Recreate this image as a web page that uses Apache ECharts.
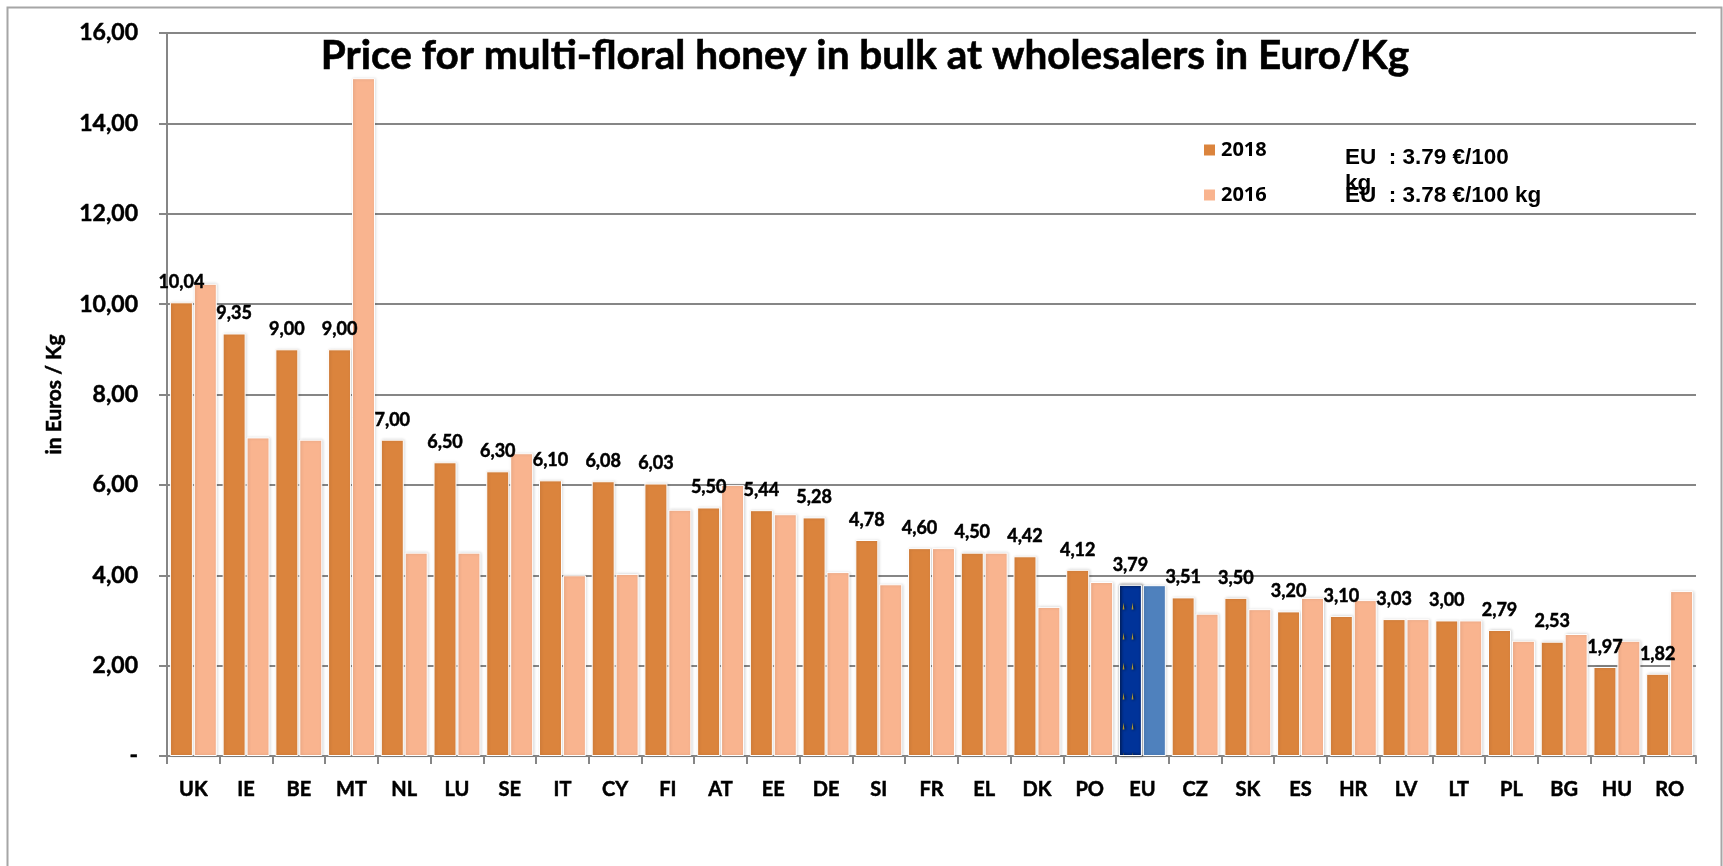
<!DOCTYPE html>
<html>
<head>
<meta charset="utf-8">
<style>html,body{margin:0;padding:0;background:#fff}#c{width:1723px;height:866px}</style>
<script src="https://cdn.jsdelivr.net/npm/echarts@6/dist/echarts.min.js"></script>
</head>
<body>
<div id="c"></div>
<script>
const categories = ['UK','IE','BE','MT','NL','LU','SE','IT','CY','FI','AT','EE','DE','SI','FR','EL','DK','PO','EU','CZ','SK','ES','HR','LV','LT','PL','BG','HU','RO'];
const values2018 = [10.04,9.35,9.00,9.00,7.00,6.50,6.30,6.10,6.08,6.03,5.50,5.44,5.28,4.78,4.60,4.50,4.42,4.12,3.79,3.51,3.50,3.20,3.10,3.03,3.00,2.79,2.53,1.97,1.82];
const values2016 = [10.45,7.05,7.00,15.00,4.50,4.50,6.70,4.00,4.03,5.45,6.00,5.35,4.07,3.80,4.60,4.50,3.30,3.85,3.78,3.15,3.25,3.50,3.45,3.03,3.00,2.55,2.70,2.55,3.65];
const titleText = 'Price for multi-floral honey in bulk at wholesalers in Euro/Kg';
const yAxisTitle = 'in Euros / Kg';
const noteEU2018 = 'EU  : 3.79 €/100\nkg';
const noteEU2016 = 'EU  : 3.78 €/100 kg';

const ORANGE = '#db843d', PEACH = '#f9b48f', EU_DARK = '#003399', EU_BLUE = '#4f81bd';
const fmt = v => v.toFixed(2).replace('.', ',');
const barShadow = {shadowColor:'rgba(0,0,0,0.16)', shadowBlur:3, shadowOffsetX:1, borderColor:'#fff', borderWidth:1};
const heavy = {textBorderColor:'#000', textBorderWidth:0.5};

const chart = echarts.init(document.getElementById('c'), null, {renderer:'canvas'});
chart.setOption({
  animation:false,
  backgroundColor:'#fff',
  title:[
    {text:titleText,left:860,top:30,textAlign:'center',textStyle:{fontFamily:'Lato',fontWeight:'bold',fontSize:40.5,color:'#000',textBorderColor:'#000',textBorderWidth:0.6}},
    {text:noteEU2018,left:1340,top:140,textStyle:{fontFamily:'Liberation Sans',fontWeight:'bold',fontSize:22.5,color:'#000',lineHeight:26}},
    {text:noteEU2016,left:1340,top:178,textStyle:{fontFamily:'Liberation Sans',fontWeight:'bold',fontSize:22.5,color:'#000',lineHeight:26}}
  ],
  graphic:[{type:'rect',z:-10,shape:{x:7.5,y:7.5,width:1714,height:900},style:{fill:'#fff',stroke:'#a6a6a6',lineWidth:2}}],
  legend:{
    orient:'vertical',left:1197,top:135,itemWidth:13,itemHeight:13,itemGap:25,icon:'rect',
    data:['2018','2016'],
    textStyle:{fontFamily:'Open Sans',fontWeight:'bold',fontSize:20,color:'#000'}
  },
  grid:{left:167,right:27,top:33,bottom:110,containLabel:false},
  xAxis:{
    type:'category',data:categories,
    axisLine:{lineStyle:{color:'#868686',width:2}},
    axisTick:{show:true,alignWithLabel:false,length:8,lineStyle:{color:'#868686',width:2}},
    axisLabel:Object.assign({margin:24,fontFamily:'Lato',fontWeight:'bold',fontSize:20,color:'#000',interval:0},heavy),
    splitLine:{show:false}
  },
  yAxis:{
    type:'value',min:0,max:16,interval:2,
    name:yAxisTitle,nameLocation:'middle',nameGap:102,nameRotate:90,
    nameTextStyle:Object.assign({fontFamily:'Lato',fontWeight:'bold',fontSize:21,color:'#000'},heavy),
    axisLine:{show:true,lineStyle:{color:'#868686',width:2}},
    axisTick:{show:true,length:8,lineStyle:{color:'#868686',width:2}},
    axisLabel:Object.assign({margin:29,fontFamily:'Lato',fontWeight:'bold',fontSize:23,color:'#000',formatter:v=>v===0?'-':fmt(v)},heavy),
    splitLine:{show:true,lineStyle:{color:'#868686',width:2}}
  },
  series:[
    {name:'2018',type:'bar',barWidth:23,barGap:'4%',
     itemStyle:Object.assign({color:ORANGE},barShadow),
     data:values2018.map((v,i)=>categories[i]==='EU'?{value:v,itemStyle:{color:EU_DARK,decal:{symbol:'triangle',color:'#b39b2e',symbolSize:0.6,dashArrayX:[[3,6,3,10]],dashArrayY:[12,18],rotation:0}}}:v),
     label:Object.assign({show:true,position:'top',distance:11,formatter:p=>fmt(p.value),fontFamily:'Lato',fontWeight:'bold',fontSize:18,color:'#000'},heavy)
    },
    {name:'2016',type:'bar',barWidth:23,
     itemStyle:Object.assign({color:PEACH},barShadow),
     data:values2016.map((v,i)=>categories[i]==='EU'?{value:v,itemStyle:{color:EU_BLUE}}:v)
    }
  ]
});
</script>
</body>
</html>
